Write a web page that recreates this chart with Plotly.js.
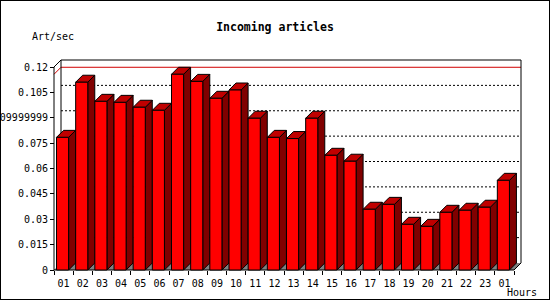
<!DOCTYPE html>
<html>
<head>
<meta charset="utf-8">
<script src="https://cdn.plot.ly/plotly-3.0.1.min.js"></script>
<style>
  html, body { margin: 0; padding: 0; background: #ffffff; }
  #wrap { position: relative; width: 550px; height: 300px; }
  #chart { width: 550px; height: 300px; }
  #border { position: absolute; left: 0; top: 0; width: 550px; height: 300px;
            box-sizing: border-box; border: 1px solid #000; pointer-events: none; }
</style>
</head>
<body>
<div id="wrap"><div id="chart"></div><div id="border"></div></div>
<script>
// ---- data ----
const hours = ['01','02','03','04','05','06','07','08','09','10','11','12',
               '13','14','15','16','17','18','19','20','21','22','23','01'];
const artPerSec = [0.0784, 0.1110, 0.0997, 0.0991, 0.0962, 0.0944, 0.1157, 0.1115,
                   0.1015, 0.1064, 0.0897, 0.0784, 0.0777, 0.0897, 0.0678, 0.0643,
                   0.0359, 0.0388, 0.0270, 0.0258, 0.0341, 0.0353, 0.0371, 0.0530];
const yTickVals = [0, 0.015, 0.03, 0.045, 0.06, 0.075, 0.09, 0.105, 0.12];
const yTickText = ['0','0.015','0.03','0.045','0.06','0.075','0.09999999','0.105','0.12'];

// ---- geometry ----
const W = 550, H = 300;
const L = 50, R = 26, T = 56, B = 26;
const pw = W - L - R, ph = H - T - B;
const n = hours.length;
const xPxPerUnit = 460 / n;          // front axis spans 460px
const yPxPerUnit = 203 / 0.12;       // 0 .. 0.12 spans 203px
const x0px = 54, y0px = 270;
const xRange = [(L - x0px) / xPxPerUnit, (W - R - x0px) / xPxPerUnit];
const yRange = [(y0px - (H - B)) / yPxPerUnit, (y0px - T) / yPxPerUnit];
const dx = 7 / xPxPerUnit, dy = 7 / yPxPerUnit;
const yTop = 0.12;
const f0 = 2.5 / xPxPerUnit, f1 = 14.6 / xPxPerUnit;
const px = x => (x - L) / pw;
const py = y => (H - B - y) / ph;

function poly(pts, X, Y) { pts.forEach(p => { X.push(p[0]); Y.push(p[1]); }); X.push(null); Y.push(null); }

const font = 'DejaVu Sans Mono';
const traces = [];

// floor
traces.push({ type: 'scatter', mode: 'lines', fill: 'toself', fillcolor: '#808080',
  x: [0, n, n + dx, dx, 0], y: [0, 0, dy, dy, 0], line: { width: 0, color: '#808080' }, hoverinfo: 'skip' });

// back-plane grid lines
{
  const X = [], Y = [];
  yTickVals.forEach(v => { if (v > 0 && v < yTop) { X.push(dx, n + dx, null); Y.push(v + dy, v + dy, null); } });
  traces.push({ type: 'scatter', mode: 'lines', x: X, y: Y, line: { color: '#000', width: 1, dash: '2px,2px' }, hoverinfo: 'skip' });
}

// max line (red)
{
  const m = Math.max(...artPerSec);
  traces.push({ type: 'scatter', mode: 'lines', x: [0, dx, n + dx], y: [m, m + dy, m + dy],
    line: { color: '#d00000', width: 1 }, hoverinfo: 'skip' });
}

// frame
traces.push({ type: 'scatter', mode: 'lines',
  x: [0, 0, dx, n + dx, n + dx, n, 0, null, dx, dx],
  y: [0, yTop, yTop + dy, yTop + dy, dy, 0, 0, null, dy, yTop + dy],
  line: { color: '#000', width: 1 }, hoverinfo: 'skip' });

// bars
{
  const FX = [], FY = [], SX = [], SY = [], TX = [], TY = [];
  artPerSec.forEach((v, i) => {
    const a = i + f0, b = i + f1;
    poly([[a, 0], [b, 0], [b, v], [a, v], [a, 0]], FX, FY);
    poly([[b, 0], [b + dx, dy], [b + dx, v + dy], [b, v], [b, 0]], SX, SY);
    poly([[a, v], [b, v], [b + dx, v + dy], [a + dx, v + dy], [a, v]], TX, TY);
  });
  const ln = { color: '#000', width: 1 };
  traces.push({ type: 'scatter', mode: 'lines', fill: 'toself', fillcolor: '#800000', x: SX, y: SY, line: ln, hoverinfo: 'skip' });
  traces.push({ type: 'scatter', mode: 'lines', fill: 'toself', fillcolor: '#c00000', x: TX, y: TY, line: ln, hoverinfo: 'skip' });
  traces.push({ type: 'scatter', mode: 'lines', fill: 'toself', fillcolor: '#ff0000', x: FX, y: FY, line: ln, hoverinfo: 'skip' });
}

// dummy trace to activate the tick-mark axis
traces.push({ type: 'scatter', mode: 'lines', x: [0], y: [0], xaxis: 'x2', yaxis: 'y',
  line: { width: 0 }, hoverinfo: 'skip', showlegend: false });

const labelVals = hours.map((h, i) => i + 0.5);
const boundVals = [];
for (let i = 0; i <= n; i++) boundVals.push(i);

const xPos = (H - B - y0px) / ph;
const layout = {
  width: W, height: H,
  margin: { l: L, r: R, t: T, b: B, pad: 0 },
  paper_bgcolor: '#ffffff', plot_bgcolor: 'rgba(0,0,0,0)',
  showlegend: false,
  font: { family: font, size: 10, color: '#000' },
  title: { text: '<b>Incoming articles</b>', xref: 'container', yref: 'container', x: 0.5, y: 1 - 27 / H,
           xanchor: 'center', yanchor: 'middle', font: { family: font, size: 11.5, color: '#000' } },
  xaxis: { range: xRange, anchor: 'free', position: xPos, showgrid: false, zeroline: false,
           showline: false, tickmode: 'array', tickvals: labelVals, ticktext: hours,
           ticks: 'outside', ticklen: 4, tickwidth: 1, tickcolor: 'rgba(0,0,0,0)',
           tickfont: { family: font, size: 10, color: '#000' }, fixedrange: true, automargin: false },
  xaxis2: { range: xRange, anchor: 'free', position: xPos, overlaying: 'x', side: 'bottom',
            showgrid: false, zeroline: false, showline: false, tickmode: 'array', tickvals: boundVals,
            showticklabels: false, ticks: 'outside', ticklen: 4, tickwidth: 1, tickcolor: '#000',
            fixedrange: true, automargin: false },
  yaxis: { range: yRange, anchor: 'free', position: (x0px - L) / pw, showgrid: false, zeroline: false,
           showline: false, tickmode: 'array', tickvals: yTickVals, ticktext: yTickText,
           ticks: 'outside', ticklen: 4, tickwidth: 1, tickcolor: '#000',
           tickfont: { family: font, size: 10, color: '#000' }, fixedrange: true, automargin: false },
  annotations: [
    { text: 'Art/sec', xref: 'paper', yref: 'paper', x: px(30), y: py(37), xanchor: 'left', yanchor: 'middle',
      showarrow: false, font: { family: font, size: 10, color: '#000' } },
    { text: 'Hours', xref: 'paper', yref: 'paper', x: px(505), y: py(292), xanchor: 'left', yanchor: 'middle',
      showarrow: false, font: { family: font, size: 10, color: '#000' } }
  ]
};

Plotly.newPlot('chart', traces, layout, { staticPlot: true, displayModeBar: false });
</script>
</body>
</html>
